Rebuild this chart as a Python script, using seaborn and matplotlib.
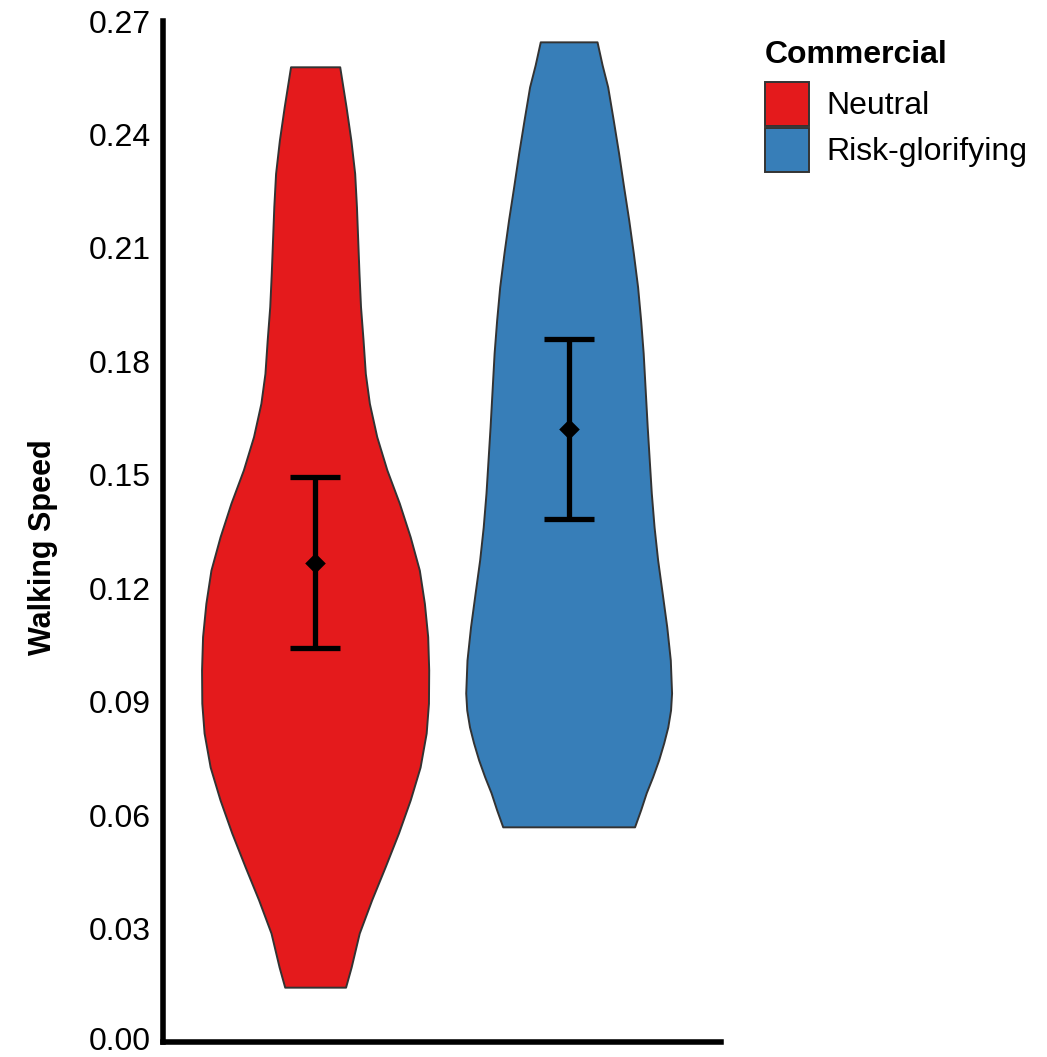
import numpy as np
import pandas as pd
import matplotlib.pyplot as plt
from matplotlib.patches import Patch
from matplotlib.transforms import ScaledTranslation
import seaborn as sns

# ----------------------
# Data
# ----------------------
groups = ["Neutral", "Risk-glorifying"]
colors = ["#E41A1C", "#377EB8"]

# violin outline: walking speed level and half-width of the violin (x units)
neutral_speed = [0.2579, 0.2473, 0.2385, 0.2297, 0.2209, 0.2121, 0.2033, 0.1945,
                 0.1857, 0.1768, 0.1689, 0.1601, 0.1513, 0.1425, 0.1336, 0.1248,
                 0.1160, 0.1072, 0.0984, 0.0896, 0.0817, 0.0727, 0.0640, 0.0553,
                 0.0463, 0.0376, 0.0288, 0.0243, 0.0198, 0.0145]
neutral_halfwidth = [0.097, 0.122, 0.141, 0.156, 0.163, 0.168, 0.173, 0.179,
                     0.189, 0.198, 0.214, 0.243, 0.283, 0.332, 0.375, 0.411,
                     0.431, 0.444, 0.448, 0.447, 0.438, 0.414, 0.375, 0.329,
                     0.276, 0.223, 0.174, 0.158, 0.142, 0.120]

risk_speed = [0.2645, 0.2584, 0.2526, 0.2438, 0.2351, 0.2261, 0.2174, 0.2087,
              0.1997, 0.1909, 0.1822, 0.1724, 0.1626, 0.1539, 0.1452, 0.1362,
              0.1275, 0.1187, 0.1098, 0.1010, 0.0923, 0.0878, 0.0833, 0.0791,
              0.0746, 0.0701, 0.0659, 0.0614, 0.0569]
risk_halfwidth = [0.112, 0.132, 0.154, 0.176, 0.197, 0.217, 0.237, 0.255,
                  0.272, 0.284, 0.294, 0.302, 0.310, 0.318, 0.326, 0.337,
                  0.351, 0.369, 0.387, 0.401, 0.406, 0.402, 0.391, 0.375,
                  0.355, 0.331, 0.306, 0.284, 0.260]

# mean and interval per group
means = [0.1268, 0.1621]
ci_low = [0.1041, 0.1382]
ci_high = [0.1495, 0.1858]

ytick_values = [0.00, 0.03, 0.06, 0.09, 0.12, 0.15, 0.18, 0.21, 0.24, 0.27]
ytick_labels = ["0.00", "0.03", "0.06", "0.09", "0.12", "0.15", "0.18", "0.21", "0.24", "0.27"]

summary = pd.DataFrame({"Commercial": groups, "pos": [0, 1],
                        "mean": means, "low": ci_low, "high": ci_high})

# ----------------------
# Plot
# ----------------------
sns.set_theme(style="white")
plt.rcParams["font.family"] = ["Liberation Sans", "DejaVu Sans"]
plt.rcParams["text.color"] = "black"

fig = plt.figure(figsize=(10.47, 10.57), dpi=100)
ax = fig.add_axes([0.1557, 0.01419, 0.5327, 0.9659])

outlines = [(neutral_speed, neutral_halfwidth), (risk_speed, risk_halfwidth)]
for i, (sp, hw) in enumerate(outlines):
    sp = np.array(sp)
    hw = np.array(hw)
    ax.fill_betweenx(sp, i - hw, i + hw, facecolor=colors[i],
                     edgecolor="#333333", linewidth=1.4, zorder=2)

ax.errorbar(summary["pos"], summary["mean"],
            yerr=[summary["mean"] - summary["low"], summary["high"] - summary["mean"]],
            fmt="none", ecolor="black", elinewidth=3.8, capsize=18, capthick=3.8, zorder=3)
sns.scatterplot(data=summary, x="pos", y="mean", marker="D", s=110,
                color="black", edgecolor="black", linewidth=0, zorder=4, legend=False, ax=ax)

ax.set_xlim(-0.6, 1.6)
ax.set_ylim(0, 0.27)
ax.set_xticks([])
ax.set_yticks(ytick_values, ytick_labels)
ax.tick_params(axis="y", length=0, pad=9, labelsize=23, labelcolor="black")
ax.set_xlabel("")
ax.set_ylabel("Walking Speed", fontsize=22, fontweight="bold", color="black")
ax.yaxis.set_label_coords(-0.188, 0.4848)

# nudge the bottom tick label up a touch so it stays inside the figure
bottom_label = ax.get_yticklabels()[0]
bottom_label.set_transform(bottom_label.get_transform()
                           + ScaledTranslation(0, 4 / 100, fig.dpi_scale_trans))

sns.despine(ax=ax)
for side in ["left", "bottom"]:
    ax.spines[side].set_linewidth(4)
    ax.spines[side].set_color("black")

# legend: title as its own text, keys below it
fig.text(765 / 1047, 1 - 63 / 1057, "Commercial", ha="left", va="baseline",
         fontsize=23, fontweight="bold", color="black")
handles = [Patch(facecolor=c, edgecolor="#333333", linewidth=1.4, label=g)
           for g, c in zip(groups, colors)]
fig.legend(handles=handles, loc="upper left",
           bbox_to_anchor=(765 / 1047, 1 - 82 / 1057), frameon=False,
           borderpad=0, borderaxespad=0, handlelength=1.375, handleheight=1.738,
           handletextpad=0.55, labelspacing=0.06, fontsize=23, labelcolor="black")

plt.savefig("out.png", dpi=100)
